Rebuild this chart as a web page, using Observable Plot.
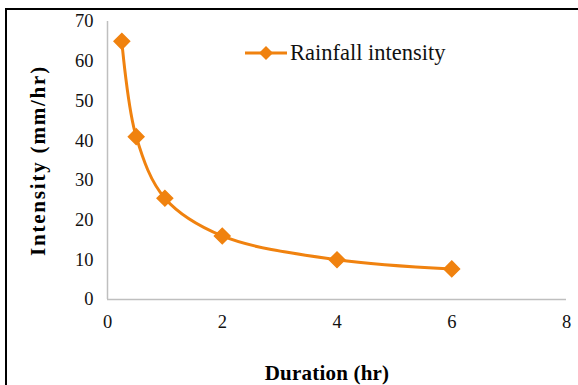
<!DOCTYPE html>
<html>
<head>
<meta charset="utf-8">
<script src="https://cdn.jsdelivr.net/npm/d3@7"></script>
<script src="https://cdn.jsdelivr.net/npm/@observablehq/plot@0.6"></script>
<style>
  html, body { margin: 0; padding: 0; background: #fff; }
  #wrap { position: relative; width: 578px; height: 385px; overflow: hidden; font-family: "Liberation Serif", "Times New Roman", serif; }
  #frame { position: absolute; left: 5px; top: 8px; width: 600px; height: 400px; border-top: 2px solid #000; border-left: 2px solid #000; box-sizing: border-box; pointer-events: none; }
  #legend { position: absolute; left: 245px; top: 40px; display: flex; align-items: center; font-size: 22.5px; color: #111; }
  #legend svg { margin-right: 3px; }
  g[aria-label="x-axis label"] text { font-weight: bold; font-size: 21px; fill: #000; letter-spacing: 0.2px; }
  g[aria-label="y-axis label"] text { font-weight: bold; font-size: 21px; fill: #000; letter-spacing: 1.8px; }
</style>
</head>
<body>
<div id="wrap">
  <div id="chart"></div>
  <div id="frame"></div>
  <div id="legend"></div>
</div>
<script>
// Rainfall intensity versus storm duration
const durations = [0.25, 0.5, 1, 2, 4, 6];          // hr
const intensities = [65, 41, 25.5, 16, 10, 7.7];    // mm/hr
const xTicks = [0, 2, 4, 6, 8];
const yTicks = [0, 10, 20, 30, 40, 50, 60, 70];
const seriesName = "Rainfall intensity";
const color = "#f0820f";

const rows = durations.map((d, i) => ({duration: d, intensity: intensities[i]}));

const chart = Plot.plot({
  width: 578,
  height: 385,
  marginLeft: 107,
  marginRight: 12,
  marginTop: 21,
  marginBottom: 86,
  style: {fontFamily: '"Liberation Serif", "Times New Roman", serif', fontSize: "18.5px", color: "#111", background: "#fff"},
  x: {domain: [0, 8]},
  y: {domain: [0, 70]},
  marks: [
    Plot.axisX({ticks: xTicks, tickSize: 0, tickPadding: 15, label: "Duration (hr)", labelArrow: "none", labelAnchor: "center", labelOffset: 80, fontSize: 18.5}),
    Plot.axisY({ticks: yTicks, tickSize: 0, tickPadding: 14, label: "Intensity (mm/hr)", labelArrow: "none", labelAnchor: "center", labelOffset: 77, fontSize: 18.5}),
    Plot.ruleY([0], {stroke: "#bfbfbf", strokeWidth: 1.5}),
    Plot.ruleX([0], {stroke: "#bfbfbf", strokeWidth: 1.5}),
    Plot.line(rows, {x: "duration", y: "intensity", stroke: color, strokeWidth: 3, curve: "catmull-rom"}),
    Plot.dot(rows, {x: "duration", y: "intensity", symbol: "diamond2", r: 7, fill: color, stroke: color})
  ]
});
// Nudge the x-axis title slightly left of the frame centre
d3.select(chart).selectAll('g[aria-label="x-axis label"] text').attr("dx", -10);
document.getElementById("chart").append(chart);

// Legend: line with diamond marker and series name
const legend = document.getElementById("legend");
legend.innerHTML = `<svg width="42" height="16"><line x1="0" x2="42" y1="8" y2="8" stroke="${color}" stroke-width="3"/><path d="M21,1 L28,8 L21,15 L14,8 Z" fill="${color}"/></svg><span>${seriesName}</span>`;
</script>
</body>
</html>
